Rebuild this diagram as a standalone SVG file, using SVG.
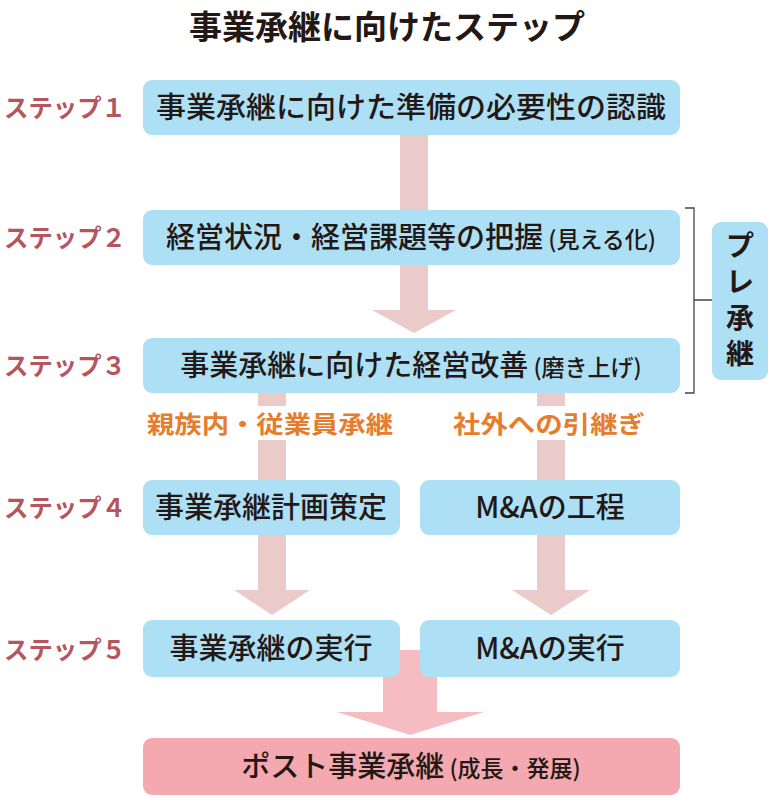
<svg xmlns="http://www.w3.org/2000/svg" width="774" height="804" viewBox="0 0 774 804">
<style>
text{font-family:"Noto Sans CJK JP","Noto Sans",sans-serif}
.box{fill:#aee0f5}
.t{font-size:29px;fill:#231815;text-anchor:middle;font-weight:500}
.s{font-size:23px}
.st{font-size:25px;font-weight:bold;fill:#b5565f}
.or{font-size:24px;font-weight:bold;fill:#e67d2c;text-anchor:middle}
.ar{fill:#ebcaca}
.p{font-size:28px;font-weight:bold;fill:#231815;text-anchor:middle}
</style>
<rect width="774" height="804" fill="#fff"/>
<text x="387" y="39" text-anchor="middle" font-size="33" font-weight="bold" fill="#231815">事業承継に向けたステップ</text>
<g id="connectors">
<polygon class="ar" points="400,135 428,135 428,310 456,310 414,333 372,310 400,310"/>
<rect class="ar" x="258" y="393" width="28" height="87"/>
<rect class="ar" x="537" y="393" width="28" height="87"/>
<polygon class="ar" points="258,535 286,535 286,590 310,590 272,615 234,590 258,590"/>
<polygon class="ar" points="537,535 565,535 565,590 590,590 551,615 512,590 537,590"/>
<polygon fill="#f5bcc1" points="383,650 437,650 437,712 484,712 410,735 337,712 383,712"/>
<path d="M685,208 H694 V393 H685 M694,300 H712" fill="none" stroke="#444" stroke-width="1.3"/>
</g>
<g id="labels">
<text class="st" x="4" y="117" textLength="122" lengthAdjust="spacingAndGlyphs">ステップ１</text>
<text class="st" x="4" y="247" textLength="122" lengthAdjust="spacingAndGlyphs">ステップ２</text>
<text class="st" x="4" y="375" textLength="122" lengthAdjust="spacingAndGlyphs">ステップ３</text>
<text class="st" x="4" y="517" textLength="122" lengthAdjust="spacingAndGlyphs">ステップ４</text>
<text class="st" x="4" y="659" textLength="122" lengthAdjust="spacingAndGlyphs">ステップ５</text>
<rect x="145" y="406" width="252" height="34" fill="#fff"/>
<rect x="450" y="406" width="200" height="34" fill="#fff"/>
<text class="or" x="270" y="433" textLength="246" lengthAdjust="spacingAndGlyphs">親族内・従業員承継</text>
<text class="or" x="549" y="433" textLength="192" lengthAdjust="spacingAndGlyphs">社外への引継ぎ</text>
</g>
<g id="n1"><rect class="box" x="143" y="80" width="537" height="55" rx="9"/><text class="t" x="411" y="118" textLength="510" lengthAdjust="spacingAndGlyphs">事業承継に向けた準備の必要性の認識</text></g>
<g id="n2"><rect class="box" x="143" y="210" width="537" height="55" rx="9"/><text class="t" x="411" y="248">経営状況・経営課題等の把握<tspan class="s"> (見える化)</tspan></text></g>
<g id="n3"><rect class="box" x="143" y="338" width="537" height="55" rx="9"/><text class="t" x="411" y="376">事業承継に向けた経営改善<tspan class="s"> (磨き上げ)</tspan></text></g>
<g id="pre"><rect class="box" x="712" y="222" width="56" height="158" rx="9"/><text class="p" x="740" y="256">プ</text><text class="p" x="740" y="292">レ</text><text class="p" x="740" y="328">承</text><text class="p" x="740" y="364">継</text></g>
<g id="n4a"><rect class="box" x="143" y="480" width="257" height="55" rx="9"/><text class="t" x="271" y="518">事業承継計画策定</text></g>
<g id="n4b"><rect class="box" x="420" y="480" width="260" height="55" rx="9"/><text class="t" x="550" y="518">M&amp;Aの工程</text></g>
<g id="n5a"><rect class="box" x="143" y="620" width="257" height="57" rx="9"/><text class="t" x="271" y="659">事業承継の実行</text></g>
<g id="n5b"><rect class="box" x="420" y="620" width="260" height="57" rx="9"/><text class="t" x="550" y="659">M&amp;Aの実行</text></g>
<g id="n6"><rect fill="#f4a9b0" x="143" y="738" width="537" height="57" rx="9"/><text class="t" x="411" y="777">ポスト事業承継<tspan class="s"> (成長・発展)</tspan></text></g>
</svg>
